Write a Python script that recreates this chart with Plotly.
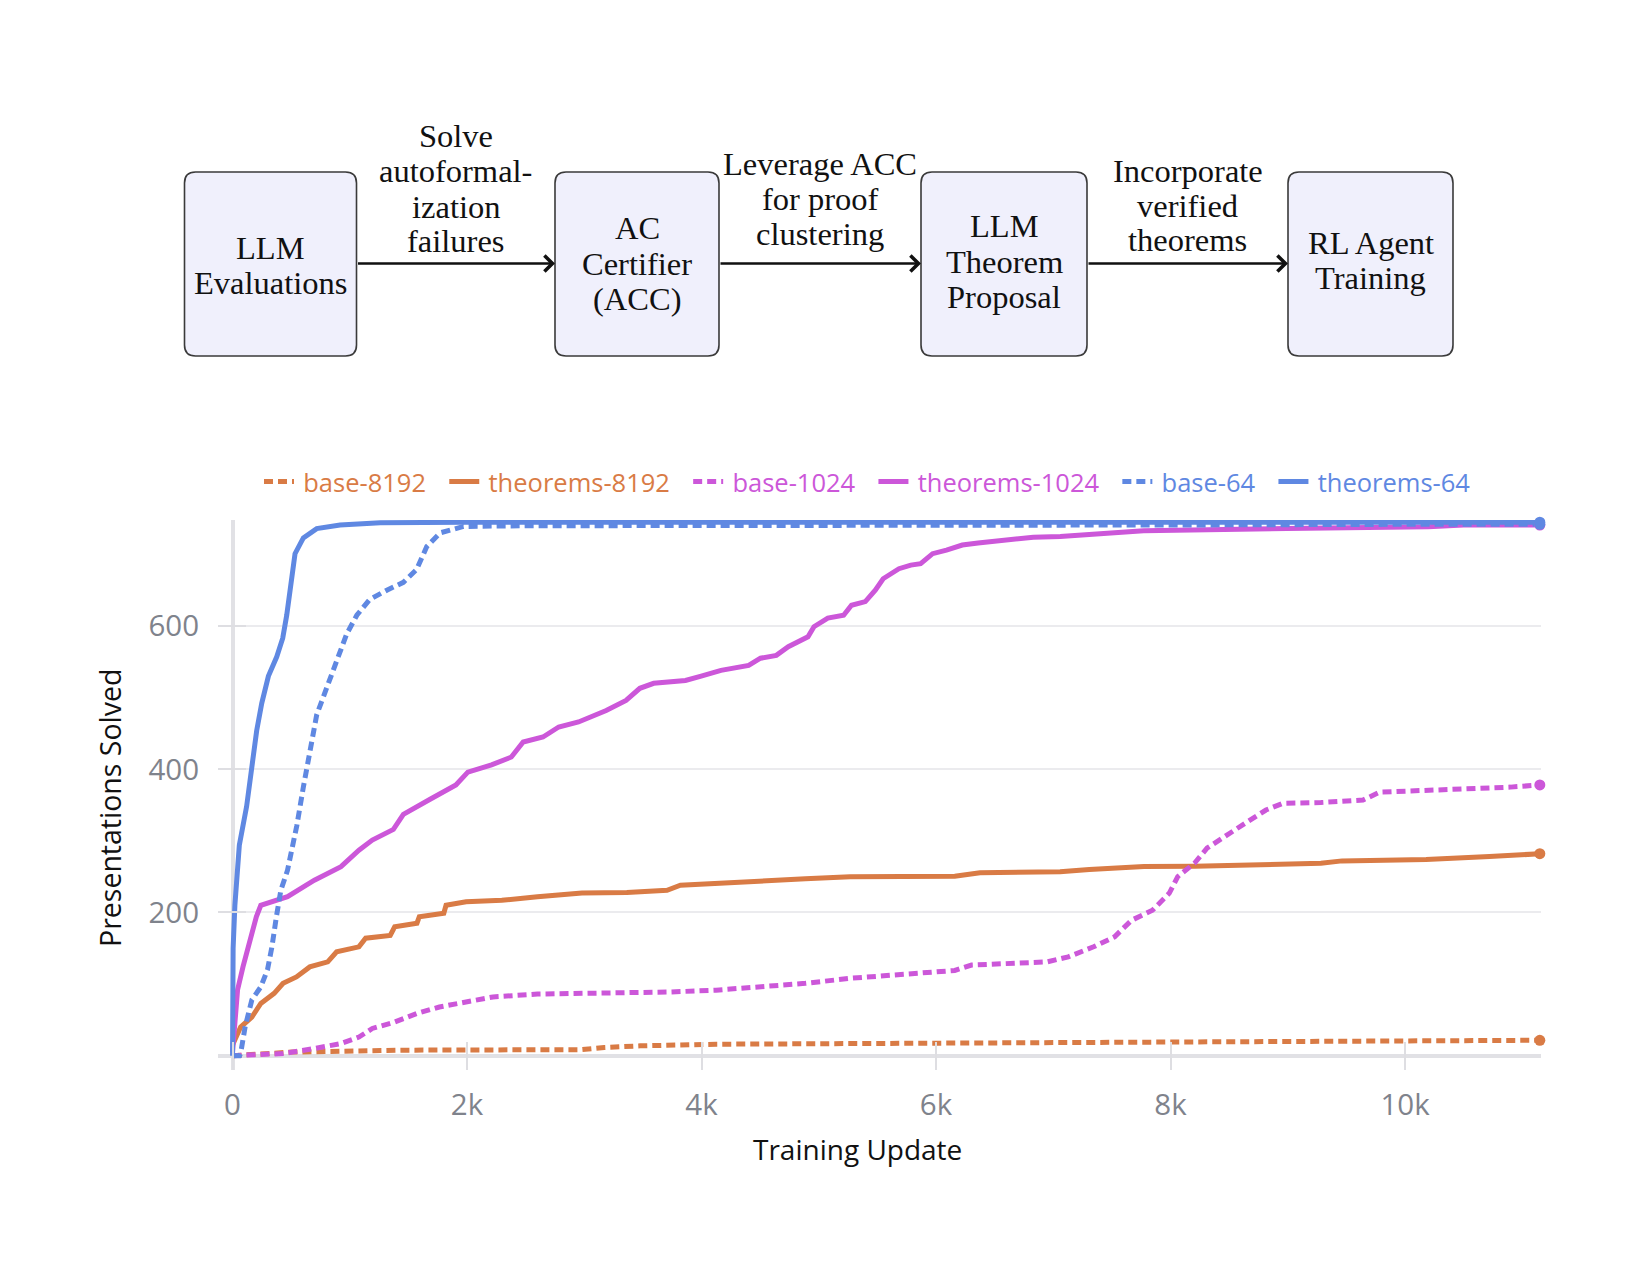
import plotly.graph_objects as go

# ---------------- data ----------------
series_names = ["base-8192", "theorems-8192", "base-1024", "theorems-1024", "base-64", "theorems-64"]

base_8192_x = [0, 508, 1459, 2980, 3170, 3477, 4124, 5906, 6985, 7050, 10500, 11150]
base_8192_y = [0, 5, 7.7, 8.4, 11.4, 13.7, 16, 17, 18, 19, 20, 21.5]

theorems_8192_x = [0, 69, 165, 241, 355, 431, 545, 659, 812, 888, 1078, 1135, 1345, 1383, 1573, 1593,
                   1802, 1821, 1992, 2297, 2601, 2980, 3363, 3706, 3820, 4124, 4505, 4886, 5267, 5693,
                   6160, 6375, 7058, 7308, 7774, 8206, 8780, 9283, 9463, 10180, 10720, 11150]
theorems_8192_y = [15, 40, 54, 73, 87, 101, 110, 124, 131, 145, 152, 164, 168, 180, 185, 194,
                   199, 210, 215, 217, 222, 227, 228, 231, 238, 241, 244, 247, 250, 250,
                   250.5, 255.5, 257, 260, 264, 264.5, 266, 268.6, 272, 274, 278, 282]

base_1024_x = [0, 431, 698, 925, 1078, 1192, 1383, 1573, 1764, 1992, 2221, 2601, 3363, 3743, 4124,
               4505, 4886, 5267, 5693, 5906, 6160, 6303, 6950, 7128, 7344, 7523, 7667, 7846, 7990,
               8062, 8206, 8313, 8456, 8636, 8814, 8960, 9283, 9642, 9785, 10360, 10900, 11150]
base_1024_y = [0, 3, 10, 17, 26, 38, 47, 59, 68, 75, 82, 86, 87, 89, 91.5,
               96, 101, 108, 114, 116, 119, 126.5, 131, 138, 152, 166, 189, 203, 227,
               250, 269, 290, 306, 324.5, 343, 352.5, 353.5, 357, 368, 371, 375, 378]

theorems_1024_x = [0, 10, 43, 89, 146, 203, 241, 393, 469, 698, 925, 1078, 1192, 1372, 1457, 1685,
                   1770, 1905, 2007, 2209, 2378, 2479, 2648, 2782, 2951, 3187, 3356, 3474, 3592,
                   3863, 3997, 4166, 4402, 4503, 4638, 4740, 4908, 4959, 5077, 5212, 5279, 5397,
                   5482, 5549, 5684, 5785, 5869, 5971, 6089, 6224, 6359, 6527, 6730, 6830, 7060,
                   7770, 8990, 10200, 10500, 11150]
theorems_1024_y = [5, 26, 92, 124, 161, 194, 210, 217, 222, 245, 264, 287, 301, 316, 337, 358,
                   366, 378, 396, 406, 417, 438, 445, 459, 466, 482, 496, 513, 520,
                   524, 530, 538, 545, 555, 559, 571, 585, 599, 611, 615, 629, 634,
                   650, 666, 680, 685, 687, 701, 706, 713, 716, 719, 721, 724, 725,
                   733, 736, 738.6, 741, 741]

base_64_x = [0, 60, 69, 107, 165, 241, 298, 336, 374, 412, 469, 526, 548, 604, 661, 718, 804, 889,
             974, 1060, 1170, 1316, 1457, 1570, 1657, 1770, 1970, 2500, 4000, 6000, 8000, 10000, 11150]
base_64_y = [0, 0, 3, 40, 78, 96, 120, 152, 194, 231, 259, 301, 321, 375, 428, 476, 514, 551,
             589, 615, 637, 650, 661, 679, 711, 730, 739, 740, 740, 741, 741, 742, 742]

theorems_64_x = [0, 5, 20, 58, 120, 164, 206, 249, 306, 377, 428, 462, 497, 533, 604, 718, 917,
                 1260, 2000, 4000, 6000, 8000, 10000, 11150]
theorems_64_y = [0, 150, 210, 294, 348, 401, 454, 492, 530, 557, 583, 615, 658, 701, 723, 736, 741,
                 744, 745, 745, 745, 745, 745, 745]

x_tick_vals = [0, 2000, 4000, 6000, 8000, 10000]
x_tick_text = ["0", "2k", "4k", "6k", "8k", "10k"]
y_tick_vals = [200, 400, 600]
y_tick_text = ["200", "400", "600"]

x_title = "Training Update"
y_title = "Presentations Solved"

# diagram texts
box_texts = [["LLM", "Evaluations"], ["AC", "Certifier", "(ACC)"],
             ["LLM", "Theorem", "Proposal"], ["RL Agent", "Training"]]
arrow_texts = [["Solve", "autoformal-", "ization", "failures"],
               ["Leverage ACC", "for proof", "clustering"],
               ["Incorporate", "verified", "theorems"]]

# ---------------- styles / layout geometry ----------------
ORANGE = "#D97B45"
MAGENTA = "#CC57D9"
BLUE = "#5F88E2"
colors = [ORANGE, ORANGE, MAGENTA, MAGENTA, BLUE, BLUE]
dashes = ["9px,5px", "solid", "9px,5px", "solid", "9px,5px", "solid"]
xs = [base_8192_x, theorems_8192_x, base_1024_x, theorems_1024_x, base_64_x, theorems_64_x]
ys = [base_8192_y, theorems_8192_y, base_1024_y, theorems_1024_y, base_64_y, theorems_64_y]

W, H = 1650, 1275
L, R, T, B = 218, 1541, 520, 1070  # plot area in pixels


def px(xp):
    return (xp - L) / (R - L)


def py(yp):
    return (B - yp) / (B - T)


fig = go.Figure()
for name, x, y, c, d in zip(series_names, xs, ys, colors, dashes):
    fig.add_trace(go.Scatter(
        x=x, y=y, mode="lines",
        name=f"<span style='color:{c}'>\u2009{name}</span>&nbsp;&nbsp;",
        line=dict(color=c, width=5, dash=d),
    ))
for name, x, y, c in zip(series_names, xs, ys, colors):
    fig.add_trace(go.Scatter(
        x=[x[-1]], y=[y[-1]], mode="markers", showlegend=False, cliponaxis=False,
        marker=dict(color=c, size=11), hoverinfo="skip",
    ))

shapes = []
annotations = []

# diagram boxes (pixel geometry)
boxes = [(184.5, 356.5), (555, 719), (921, 1087), (1288, 1453)]
box_top, box_bot = 172, 356
box_line_y = [[248, 283], [228, 264, 299], [226, 262, 297], [243, 278]]
r = 11
SERIF = dict(family="Liberation Serif", size=32.5, color="#111111")


def rrect(x0, y0, x1, y1, rad):
    pts = [
        ("M", [(x0 + rad, y0)]), ("L", [(x1 - rad, y0)]), ("Q", [(x1, y0), (x1, y0 + rad)]),
        ("L", [(x1, y1 - rad)]), ("Q", [(x1, y1), (x1 - rad, y1)]),
        ("L", [(x0 + rad, y1)]), ("Q", [(x0, y1), (x0, y1 - rad)]),
        ("L", [(x0, y0 + rad)]), ("Q", [(x0, y0), (x0 + rad, y0)]),
    ]
    s = ""
    for cmd, ps in pts:
        s += cmd + " ".join(f"{px(a):.5f},{py(b):.5f}" for a, b in ps) + " "
    return s + "Z"


for (x0, x1), lines, lys in zip(boxes, box_texts, box_line_y):
    shapes.append(dict(type="path", xref="paper", yref="paper",
                       path=rrect(x0, box_top, x1, box_bot, r),
                       fillcolor="#F0F0FC", line=dict(color="#3a3a3a", width=1.6), layer="above"))
    cx = (x0 + x1) / 2
    for t, yy in zip(lines, lys):
        annotations.append(dict(x=px(cx), y=py(yy), xref="paper", yref="paper", text=t,
                                showarrow=False, xanchor="center", yanchor="middle", font=SERIF))

arrow_y = 263.5
arrow_line_y = [[136, 171, 207, 241], [164, 199, 234], [171, 206, 240]]
for i in range(3):
    xa = boxes[i][1]
    xb = boxes[i + 1][0]
    annotations.append(dict(x=px(xb), y=py(arrow_y), xref="paper", yref="paper",
                            ax=-(xb - xa), ay=0, text="", showarrow=True,
                            arrowhead=4, arrowsize=1.3, arrowwidth=2.4, arrowcolor="#111111",
                            standoff=0, startstandoff=0))
    cx = (xa + xb) / 2
    for t, yy in zip(arrow_texts[i], arrow_line_y[i]):
        annotations.append(dict(x=px(cx), y=py(yy), xref="paper", yref="paper", text=t,
                                showarrow=False, xanchor="center", yanchor="middle", font=SERIF))

# axis titles as positioned annotations
annotations.append(dict(x=px(857), y=py(1149), xref="paper", yref="paper", text=x_title,
                        showarrow=False, xanchor="center", yanchor="middle",
                        font=dict(family="Open Sans", size=28, color="#111111")))
annotations.append(dict(x=px(110), y=py(808), xref="paper", yref="paper", text=y_title,
                        showarrow=False, xanchor="center", yanchor="middle", textangle=-90,
                        font=dict(family="Open Sans", size=28.5, color="#111111")))

TICKFONT = dict(family="Open Sans", size=29.5, color="#7f838c")

fig.update_layout(
    width=W, height=H,
    margin=dict(l=L, r=W - R, t=T, b=H - B, pad=0),
    paper_bgcolor="white", plot_bgcolor="white",
    font=dict(family="Open Sans", size=26, color="#7f838c"),
    showlegend=True,
    legend=dict(orientation="h", x=px(874), xanchor="center", y=py(482), yanchor="middle",
                font=dict(family="Open Sans", size=25.5), bgcolor="rgba(0,0,0,0)",
                itemwidth=30, tracegroupgap=0),
    shapes=shapes,
    annotations=annotations,
    xaxis=dict(range=[-124, 11160], tickvals=x_tick_vals, ticktext=x_tick_text,
               showgrid=False, zeroline=True, zerolinecolor="#e1e1e5", zerolinewidth=4,
               ticks="inside", ticklen=28, tickwidth=2, tickcolor="#dedee2",
               tickfont=TICKFONT, ticklabelstandoff=14, showline=False),
    yaxis=dict(range=[-20, 748], tickvals=y_tick_vals, ticktext=y_tick_text,
               showgrid=True, gridcolor="#ebebee", gridwidth=2,
               zeroline=True, zerolinecolor="#e1e1e5", zerolinewidth=4,
               ticks="inside", ticklen=28, tickwidth=2, tickcolor="#dedee2",
               tickfont=TICKFONT, ticklabelstandoff=18, showline=False),
)

fig.write_html("out.html")
